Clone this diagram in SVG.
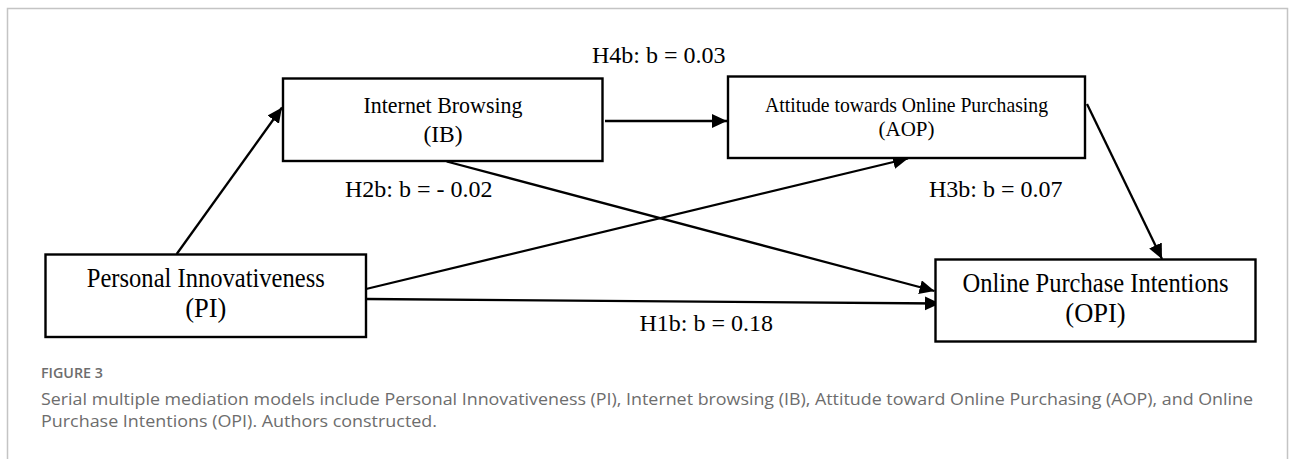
<svg xmlns="http://www.w3.org/2000/svg" width="1293" height="459" viewBox="0 0 1293 459">
<style>
.box{fill:#fff;stroke:#000;stroke-width:2.4}
.nt{font-family:"Liberation Serif","Times New Roman",serif;fill:#000;text-anchor:middle}
.lb{font-family:"Liberation Serif","Times New Roman",serif;font-size:24px;fill:#000}
.cn{stroke:#000;stroke-width:2.3;fill:none;marker-end:url(#ah)}
.cap{font-family:"Open Sans","Noto Sans",sans-serif;fill:#6d6d6d}
</style>
<defs>
<marker id="ah" markerUnits="userSpaceOnUse" markerWidth="16" markerHeight="15" refX="15" refY="7" orient="auto">
<path d="M0,0 L15,7 L0,14 z" fill="#000"/>
</marker>
</defs>
<rect width="1293" height="459" fill="#fff"/>
<path d="M7.5,470 V8.5 H1287.5 V470" fill="none" stroke="#c4c4c4" stroke-width="1.5"/>
<g id="connectors">
<line class="cn" x1="176.7" y1="254" x2="282" y2="107.5"/>
<line class="cn" x1="605" y1="121" x2="727" y2="121"/>
<line class="cn" x1="446.7" y1="161.5" x2="934.5" y2="291"/>
<line class="cn" x1="366" y1="289" x2="908" y2="158.5"/>
<line class="cn" x1="367" y1="299" x2="940" y2="303.5"/>
<line class="cn" x1="1087" y1="104" x2="1162" y2="259"/>
</g>
<g id="node-ib">
<rect class="box" x="283" y="78.5" width="319.5" height="82.5"/>
<text class="nt" x="443" y="112.7" font-size="23.5" textLength="159" lengthAdjust="spacingAndGlyphs">Internet Browsing</text>
<text class="nt" x="443" y="141.7" font-size="23.5">(IB)</text>
</g>
<g id="node-aop">
<rect class="box" x="728" y="76.5" width="357" height="81.5"/>
<text class="nt" x="906.5" y="111.7" font-size="21" textLength="283" lengthAdjust="spacingAndGlyphs">Attitude towards Online Purchasing</text>
<text class="nt" x="906.5" y="136" font-size="21">(AOP)</text>
</g>
<g id="node-pi">
<rect class="box" x="45.5" y="254.5" width="320.5" height="82.5"/>
<text class="nt" x="205.8" y="287.3" font-size="26.5" textLength="238" lengthAdjust="spacingAndGlyphs">Personal Innovativeness</text>
<text class="nt" x="205.8" y="317" font-size="26.5">(PI)</text>
</g>
<g id="node-opi">
<rect class="box" x="935.5" y="259.5" width="320" height="82"/>
<text class="nt" x="1095.5" y="292.3" font-size="26.5" textLength="266" lengthAdjust="spacingAndGlyphs">Online Purchase Intentions</text>
<text class="nt" x="1095.5" y="322.3" font-size="26.5">(OPI)</text>
</g>
<g id="labels">
<text class="lb" x="592" y="63.3">H4b: b = 0.03</text>
<text class="lb" x="345" y="197">H2b: b = - 0.02</text>
<text class="lb" x="929" y="196.7">H3b: b = 0.07</text>
<text class="lb" x="639.5" y="330.7">H1b: b = 0.18</text>
</g>
<g id="caption">
<text class="cap" x="41" y="377.5" font-size="14.5" font-weight="600" fill="#5f5f5f" textLength="62" lengthAdjust="spacingAndGlyphs">FIGURE 3</text>
<text class="cap" x="41" y="404.5" font-size="17" textLength="1212" lengthAdjust="spacingAndGlyphs">Serial multiple mediation models include Personal Innovativeness (PI), Internet browsing (IB), Attitude toward Online Purchasing (AOP), and Online</text>
<text class="cap" x="41" y="427" font-size="17" textLength="396" lengthAdjust="spacingAndGlyphs">Purchase Intentions (OPI). Authors constructed.</text>
</g>
</svg>
